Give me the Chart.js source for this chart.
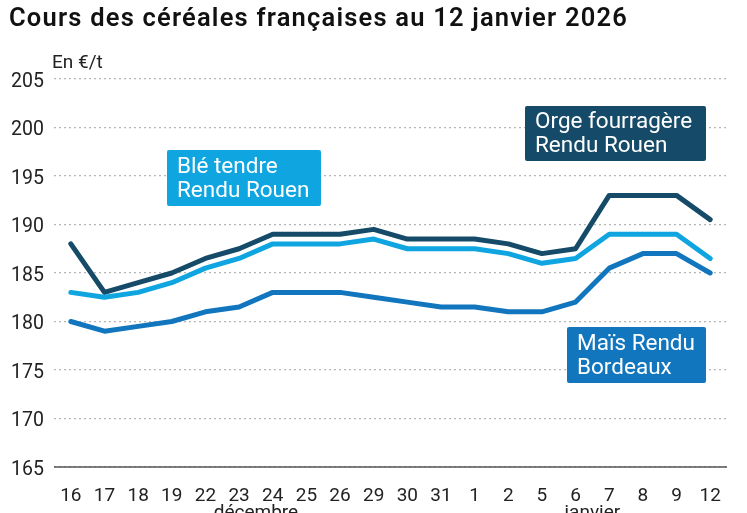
<!DOCTYPE html>
<html><head><meta charset="utf-8">
<script src="https://cdn.jsdelivr.net/npm/chart.js@4.4.1/dist/chart.umd.min.js"></script>
<style>html,body{margin:0;padding:0;background:#fff}#w{width:747px;height:513px;position:relative}</style>
</head><body><div id="w"><canvas id="c"></canvas></div>
<script>
const categories = ['16','17','18','19','22','23','24','25','26','29','30','31','1','2','5','6','7','8','9','12'];
const months = [{label:'décembre', from:0, to:11},{label:'janvier', from:12, to:19}];
const orge = [188,183,184,185,186.5,187.5,189,189,189,189.5,188.5,188.5,188.5,188,187,187.5,193,193,193,190.5];
const ble  = [183,182.5,183,184,185.5,186.5,188,188,188,188.5,187.5,187.5,187.5,187,186,186.5,189,189,189,186.5];
const mais = [180,179,179.5,180,181,181.5,183,183,183,182.5,182,181.5,181.5,181,181,182,185.5,187,187,185];
const yTicks = [165,170,175,180,185,190,195,200,205];
const seriesNames = ['Orge fourragère Rendu Rouen','Blé tendre Rendu Rouen','Maïs Rendu Bordeaux'];

const FONT = 'Roboto, "Noto Sans", sans-serif';
const boxes = [
  {lines:['Blé tendre','Rendu Rouen'], color:'#0ea5e0', x:167, y:150, w:154, h:56},
  {lines:['Orge fourragère','Rendu Rouen'], color:'#154a68', x:525, y:106, w:181, h:55},
  {lines:['Maïs Rendu','Bordeaux'], color:'#1176bd', x:567, y:327, w:139, h:56}
];

const overlay = {
  id:'overlay',
  afterDraw(chart){
    const ctx = chart.ctx, xs = chart.scales.x, ys = chart.scales.y, ca = chart.chartArea;
    ctx.save();
    // title
    ctx.fillStyle = '#111';
    ctx.font = '600 25.5px ' + FONT;
    ctx.textBaseline = 'alphabetic'; ctx.textAlign = 'left';
    if ('letterSpacing' in ctx) ctx.letterSpacing = '1.2px';
    ctx.fillText('Cours des céréales françaises au 12 janvier 2026', 9, 26);
    if ('letterSpacing' in ctx) ctx.letterSpacing = '0px';
    ctx.font = '19px ' + FONT;
    ctx.fillStyle = '#222';
    ctx.fillText('En €/t', 52, 68);
    // axis line
    const yb = ys.getPixelForValue(165);
    ctx.strokeStyle = '#555'; ctx.lineWidth = 1.5;
    ctx.beginPath(); ctx.moveTo(ca.left, yb); ctx.lineTo(ca.right, yb); ctx.stroke();
    // months
    ctx.textAlign = 'center'; ctx.textBaseline = 'top';
    months.forEach(m => {
      const x = (xs.getPixelForValue(m.from) + xs.getPixelForValue(m.to)) / 2;
      ctx.fillText(m.label, x, 504);
    });
    // boxes
    boxes.forEach(b => {
      ctx.fillStyle = b.color;
      ctx.beginPath();
      if (ctx.roundRect) ctx.roundRect(b.x, b.y, b.w, b.h, 2); else ctx.rect(b.x, b.y, b.w, b.h);
      ctx.fill();
      ctx.fillStyle = '#fff';
      ctx.font = '22.5px ' + FONT;
      ctx.textAlign = 'left'; ctx.textBaseline = 'middle';
      ctx.fillText(b.lines[0], b.x + 10, b.y + b.h/2 - 11);
      ctx.fillText(b.lines[1], b.x + 10, b.y + b.h/2 + 13);
    });
    ctx.restore();
  }
};

new Chart(document.getElementById('c'), {
  type:'line',
  data:{
    labels: categories,
    datasets:[
      {label:seriesNames[2], data:mais, borderColor:'#1176bd'},
      {label:seriesNames[1], data:ble, borderColor:'#0ea5e0'},
      {label:seriesNames[0], data:orge, borderColor:'#154a68'}
    ].map(d => Object.assign(d, {borderWidth:5, pointRadius:0, tension:0, fill:false, borderCapStyle:'round', borderJoinStyle:'round'}))
  },
  options:{
    responsive:true, maintainAspectRatio:false, animation:false,
    layout:{padding:{top:79, right:20, left:0, bottom:0}},
    plugins:{legend:{display:false}, title:{display:false}, tooltip:{enabled:false}},
    scales:{
      x:{
        offset:true,
        grid:{display:false},
        border:{display:false},
        ticks:{color:'#222', font:{family:FONT, size:19}, padding:10, maxRotation:0, autoSkip:false},
        afterFit(s){ s.height = 46; }
      },
      y:{
        min:165, max:205,
        afterBuildTicks(s){ s.ticks = yTicks.map(v => ({value:v})); },
        grid:{color:'#b5b5b5', lineWidth:1.2, drawTicks:false},
        border:{display:false, dash:[2,3]},
        ticks:{color:'#222', font:{family:FONT, size:19.5}, padding:10, labelOffset:3},
        afterFit(s){ s.width = 54; }
      }
    }
  },
  plugins:[overlay]
});
</script></body></html>
